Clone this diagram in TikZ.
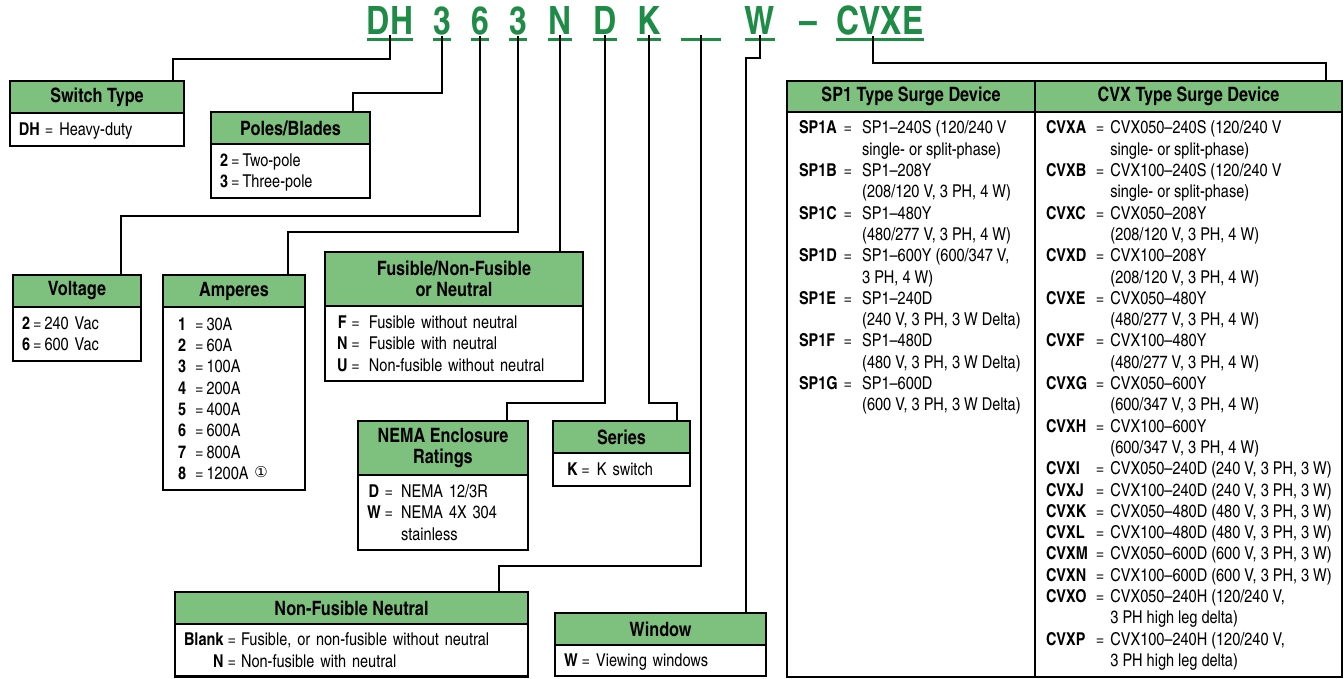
\documentclass[tikz,border=0pt]{standalone}
\usepackage{fontspec}
\setmainfont{texgyreheroscn}[Extension=.otf, UprightFont=*-regular, BoldFont=*-bold, ItalicFont=*-italic, BoldItalicFont=*-bolditalic]
\newfontfamily\symfont{DejaVu Sans}
\usepackage{tikz}
\usetikzlibrary{positioning}
\definecolor{hdgreen}{RGB}{126,192,126}
\definecolor{codegreen}{RGB}{30,140,70}
\setlength\parindent{0pt}
\newcommand\lowstrut{\setbox\strutbox\hbox{\vrule height 16.9pt depth 4.4pt width 0pt}}

\begin{document}
\begin{tikzpicture}[x=1pt, y=-1pt,
    code/.style={text=codegreen, font=\bfseries\fontsize{39}{39}\selectfont, inner sep=0pt, anchor=base},
    hd/.style={draw, line width=2.3pt, fill=hdgreen, inner sep=0pt, outer sep=0pt, anchor=north west, align=center, minimum height=32pt, font=\bfseries\fontsize{19.8}{21.5}\selectfont},
    body/.style={draw, line width=2.3pt, inner xsep=9pt, inner ysep=5.7pt, outer sep=0pt, align=left, font=\fontsize{17.7}{21.3}\selectfont\lowstrut},
    link/.style={line width=2pt}
]
\useasboundingbox (0,0) rectangle (1344,679);

% catalog number
\foreach \name/\txt/\x in {cdh/DH/390, cp/3/442, cv/6/480, ca/3/518, cf/N/560, ce/D/605, cs/K/649, cw/W/760, ct/CVXE/880}
  \node[code] (\name) at (\x,35) {\txt};
\node[code, minimum width=40pt] (cn) at (701,35) {\vphantom{D}};
\node[code] (dash) at (808,35) {--};
\foreach \name in {cdh, cp, cv, ca, cf, ce, cs, cn, cw, ct}
  \draw[codegreen, line width=3pt] ([yshift=-4pt]\name.south west) -- ([yshift=-4pt]\name.south east);

% boxes
\node[hd, minimum width=174pt] (stype) at (10,81) {Switch Type};
\node[body, text width=156pt, below=0pt of stype] (stypeb) {\begin{tabular}{@{}l@{\hspace{5pt}}l@{\hspace{6pt}}l@{}}
\textbf{DH} & = & Heavy-duty
\end{tabular}};

\node[hd, minimum width=159pt] (poles) at (211,112) {Poles/Blades};
\node[body, text width=141pt, below=0pt of poles] (polesb) {\begin{tabular}{@{}l@{\hspace{3pt}}l@{\hspace{3pt}}l@{}}
\textbf{2} & = & Two-pole\\
\textbf{3} & = & Three-pole
\end{tabular}};

\node[hd, minimum width=128pt] (volt) at (13,275) {Voltage};
\node[body, text width=110pt, below=0pt of volt] (voltb) {\begin{tabular}{@{}l@{\hspace{3pt}}l@{\hspace{3pt}}l@{}}
\textbf{2} & = & 240 Vac\\
\textbf{6} & = & 600 Vac
\end{tabular}};

\node[hd, minimum width=142pt] (amps) at (163,275) {Amperes};
\node[body, text width=124pt, below=0pt of amps, inner ysep=6.3pt] (ampsb) {\begin{tabular}{@{\hspace{6pt}}l@{\hspace{9pt}}l@{\hspace{3pt}}l@{}}
\textbf{1} & = & 30A\\
\textbf{2} & = & 60A\\
\textbf{3} & = & 100A\\
\textbf{4} & = & 200A\\
\textbf{5} & = & 400A\\
\textbf{6} & = & 600A\\
\textbf{7} & = & 800A\\
\textbf{8} & = & 1200A \raisebox{2pt}{\symfont\fontsize{15}{15}\selectfont ①}
\end{tabular}};

\node[hd, minimum width=258pt, minimum height=54pt] (fuse) at (325,252) {Fusible/Non-Fusible\\or Neutral};
\node[body, text width=240pt, below=0pt of fuse] (fuseb) {\begin{tabular}{@{\hspace{3pt}}c@{\hspace{4pt}}l@{\hspace{9pt}}l@{}}
\textbf{F} & = & Fusible without neutral\\
\textbf{N} & = & Fusible with neutral\\
\textbf{U} & = & Non-fusible without neutral
\end{tabular}};

\node[hd, minimum width=170pt, minimum height=54pt] (nema) at (358,421) {NEMA Enclosure\\Ratings};
\node[body, text width=152pt, below=0pt of nema] (nemab) {\begin{tabular}{@{}c@{\hspace{4pt}}l@{\hspace{8pt}}l@{}}
\textbf{D} & = & NEMA 12/3R\\
\textbf{W} & = & NEMA 4X 304\\
 & & stainless
\end{tabular}};

\node[hd, minimum width=137pt] (series) at (553,421) {Series};
\node[body, text width=119pt, below=0pt of series] (seriesb) {\begin{tabular}{@{\hspace{5pt}}l@{\hspace{4pt}}l@{\hspace{7pt}}l@{}}
\textbf{K} & = & K switch
\end{tabular}};

\node[hd, minimum width=353pt] (nfn) at (175,592) {Non-Fusible Neutral};
\node[body, text width=335pt, below=0pt of nfn, inner ysep=5pt] (nfnb) {\begin{tabular}{@{}r@{\hspace{4pt}}l@{\hspace{5pt}}l@{}}
\textbf{Blank} & = & Fusible, or non-fusible without neutral\\
\textbf{N} & = & Non-fusible with neutral
\end{tabular}};

\node[hd, minimum width=211pt] (win) at (555,613) {Window};
\node[body, text width=193pt, below=0pt of win, inner ysep=5pt] (winb) {\begin{tabular}{@{}l@{\hspace{4pt}}l@{\hspace{6pt}}l@{}}
\textbf{W} & = & Viewing windows
\end{tabular}};

% surge device table
\node[hd, minimum width=248pt, minimum height=31pt] (sphd) at (787,81) {SP1 Type Surge Device};
\node[hd, minimum width=307pt, minimum height=31pt, anchor=north west] (cvhd) at (sphd.north east) {CVX Type Surge Device};
\node[body, below=0pt of sphd, inner ysep=5pt] (spb) {\begin{minipage}[t][555pt][t]{230pt}
\fontsize{17.7}{21.35}\selectfont\lowstrut
\begin{tabular}{@{\hspace{3pt}}l@{\hspace{6pt}}l@{\hspace{10pt}}l@{}}
\textbf{SP1A} & = & SP1--240S (120/240 V\\
 & & single- or split-phase)\\
\textbf{SP1B} & = & SP1--208Y\\
 & & (208/120 V, 3 PH, 4 W)\\
\textbf{SP1C} & = & SP1--480Y\\
 & & (480/277 V, 3 PH, 4 W)\\
\textbf{SP1D} & = & SP1--600Y (600/347 V,\\
 & & 3 PH, 4 W)\\
\textbf{SP1E} & = & SP1--240D\\
 & & (240 V, 3 PH, 3 W Delta)\\
\textbf{SP1F} & = & SP1--480D\\
 & & (480 V, 3 PH, 3 W Delta)\\
\textbf{SP1G} & = & SP1--600D\\
 & & (600 V, 3 PH, 3 W Delta)
\end{tabular}\end{minipage}};
\node[body, below=0pt of cvhd, inner ysep=5pt] (cvb) {\begin{minipage}[t][555pt][t]{289pt}
\fontsize{17.7}{21.35}\selectfont\lowstrut
\begin{tabular}{@{\hspace{2pt}}l@{\hspace{8pt}}l@{\hspace{6pt}}l@{}}
\textbf{CVXA} & = & CVX050--240S (120/240 V\\
 & & single- or split-phase)\\
\textbf{CVXB} & = & CVX100--240S (120/240 V\\
 & & single- or split-phase)\\
\textbf{CVXC} & = & CVX050--208Y\\
 & & (208/120 V, 3 PH, 4 W)\\
\textbf{CVXD} & = & CVX100--208Y\\
 & & (208/120 V, 3 PH, 4 W)\\
\textbf{CVXE} & = & CVX050--480Y\\
 & & (480/277 V, 3 PH, 4 W)\\
\textbf{CVXF} & = & CVX100--480Y\\
 & & (480/277 V, 3 PH, 4 W)\\
\textbf{CVXG} & = & CVX050--600Y\\
 & & (600/347 V, 3 PH, 4 W)\\
\textbf{CVXH} & = & CVX100--600Y\\
 & & (600/347 V, 3 PH, 4 W)\\
\textbf{CVXI} & = & CVX050--240D (240 V, 3 PH, 3 W)\\
\textbf{CVXJ} & = & CVX100--240D (240 V, 3 PH, 3 W)\\
\textbf{CVXK} & = & CVX050--480D (480 V, 3 PH, 3 W)\\
\textbf{CVXL} & = & CVX100--480D (480 V, 3 PH, 3 W)\\
\textbf{CVXM} & = & CVX050--600D (600 V, 3 PH, 3 W)\\
\textbf{CVXN} & = & CVX100--600D (600 V, 3 PH, 3 W)\\
\textbf{CVXO} & = & CVX050--240H (120/240 V,\\
 & & 3 PH high leg delta)\\
\textbf{CVXP} & = & CVX100--240H (120/240 V,\\
 & & 3 PH high leg delta)
\end{tabular}\end{minipage}};

% connectors
\draw[link] (cdh.south) -- ++(0,24) -| ([xshift=163pt]stype.north west);
\draw[link] (cp.south) -- ++(0,57) -| ([xshift=142pt]poles.north west);
\draw[link] (cv.south) -- ++(0,180) -| ([xshift=108pt]volt.north west);
\draw[link] (ca.south) -- ++(0,196) -| ([xshift=125pt]amps.north west);
\draw[link] (cf.south) -- (cf.south |- fuse.north);
\draw[link] (ce.south) -- ++(0,368) -| ([xshift=149pt]nema.north west);
\draw[link] (cs.south) -- ++(0,368) -| ([xshift=124pt]series.north west);
\draw[link] (cn.south) -- ++(0,531) -| ([xshift=324pt]nfn.north west);
\draw[link] (cw.south) -- ++(0,23) -| ([xshift=191pt]win.north west);
\draw[link] ([xshift=-7pt]ct.south) -- ++(0,27) -| ([xshift=-16pt]cvhd.north east);
\end{tikzpicture}
\end{document}
